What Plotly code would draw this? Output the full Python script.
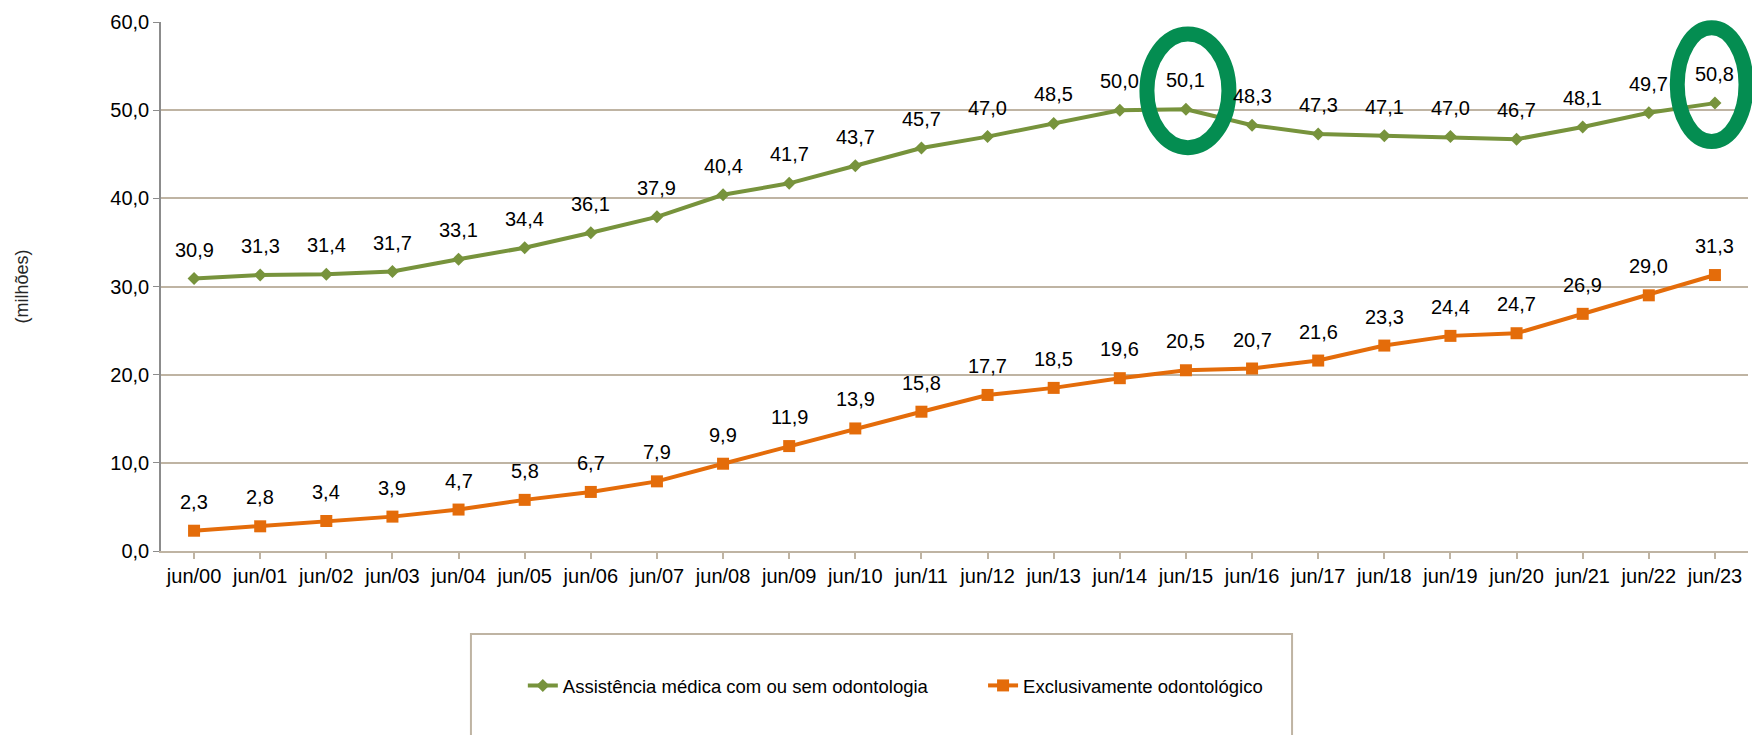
import plotly.graph_objects as go

categories = ["jun/00", "jun/01", "jun/02", "jun/03", "jun/04", "jun/05", "jun/06", "jun/07",
              "jun/08", "jun/09", "jun/10", "jun/11", "jun/12", "jun/13", "jun/14", "jun/15",
              "jun/16", "jun/17", "jun/18", "jun/19", "jun/20", "jun/21", "jun/22", "jun/23"]
medica = [30.9, 31.3, 31.4, 31.7, 33.1, 34.4, 36.1, 37.9, 40.4, 41.7, 43.7, 45.7,
          47.0, 48.5, 50.0, 50.1, 48.3, 47.3, 47.1, 47.0, 46.7, 48.1, 49.7, 50.8]
odonto = [2.3, 2.8, 3.4, 3.9, 4.7, 5.8, 6.7, 7.9, 9.9, 11.9, 13.9, 15.8,
          17.7, 18.5, 19.6, 20.5, 20.7, 21.6, 23.3, 24.4, 24.7, 26.9, 29.0, 31.3]
name_medica = "Assistência médica com ou sem odontologia"
name_odonto = "Exclusivamente odontológico"
highlighted = ["jun/15", "jun/23"]
y_ticks = [0, 10, 20, 30, 40, 50, 60]

GREEN = "#77933C"
ORANGE = "#E46C0A"
RING = "#048D51"
GRID = "#BFB4A3"
FONT = "Liberation Sans, Arial, sans-serif"
Y_MAX = 60

fig = go.Figure()
fig.add_trace(go.Scatter(
    x=categories, y=medica, name=name_medica, mode="lines+markers",
    line=dict(color=GREEN, width=4), marker=dict(symbol="diamond", size=10, color=GREEN),
    legend="legend", showlegend=True))
fig.add_trace(go.Scatter(
    x=categories, y=odonto, name=name_odonto, mode="lines+markers",
    line=dict(color=ORANGE, width=4), marker=dict(symbol="square", size=12, color=ORANGE),
    legend="legend2", showlegend=True))

def fmt(v):
    return f"{v:.1f}".replace(".", ",")

annotations = []
for series in (medica, odonto):
    for c, v in zip(categories, series):
        annotations.append(dict(x=c, y=v, xref="x", yref="y", text=fmt(v), showarrow=False,
                                yshift=29, font=dict(family=FONT, size=20, color="#000000")))

# highlight rings (paper coords derived from the category / value scale so they are not clipped)
n = len(categories)
shapes = []
ring_rx = [0.62, 0.52]
ring_dx = [0.03, -0.05]
for cat, rx, dx in zip(highlighted, ring_rx, ring_dx):
    i = categories.index(cat)
    yc = medica[i] + 2.1
    shapes.append(dict(type="circle", xref="paper", yref="paper",
                       x0=(i + dx - rx + 0.5) / n, x1=(i + dx + rx + 0.5) / n,
                       y0=(yc - 6.45) / Y_MAX, y1=(yc + 6.45) / Y_MAX,
                       line=dict(color=RING, width=15), layer="above"))

# legend frame
shapes.append(dict(type="rect", xref="paper", yref="paper",
                   x0=0.1953, x1=0.7127, y0=-0.40, y1=-0.1568,
                   line=dict(color=GRID, width=2), fillcolor="rgba(0,0,0,0)"))

fig.update_layout(
    width=1760, height=735,
    margin=dict(l=153, r=20, t=14, b=192, autoexpand=False),
    paper_bgcolor="white", plot_bgcolor="white",
    separators=",.",
    showlegend=True,
    font=dict(family=FONT, size=20, color="#000000"),
    annotations=annotations,
    shapes=shapes,
    legend=dict(orientation="h", x=0.228, y=-0.255, xanchor="left", yanchor="middle",
                font=dict(family=FONT, size=18.5, color="#000000"), bgcolor="rgba(0,0,0,0)",
                visible=True),
    legend2=dict(orientation="h", x=0.518, y=-0.255, xanchor="left", yanchor="middle",
                 font=dict(family=FONT, size=18.5, color="#000000"), bgcolor="rgba(0,0,0,0)",
                 visible=True),
    xaxis=dict(type="category", range=[-0.5, n - 0.5],
               showgrid=False, showline=True, linecolor=GRID, linewidth=2,
               ticks="outside", ticklen=6, tickwidth=2, tickcolor=GRID,
               tickfont=dict(family=FONT, size=20, color="#000000")),
    yaxis=dict(range=[0, Y_MAX], tickvals=y_ticks, tickformat=".1f",
               showgrid=True, gridcolor=GRID, gridwidth=2,
               showline=True, linecolor="#8C8C8C", linewidth=1.5,
               ticks="outside", ticklen=6, tickcolor="#8C8C8C", zeroline=False,
               tickfont=dict(family=FONT, size=20, color="#000000"),
               title=dict(text="(milhões)", standoff=77,
                          font=dict(family=FONT, size=18, color="#262626"))),
)

fig.write_html("out.html")
